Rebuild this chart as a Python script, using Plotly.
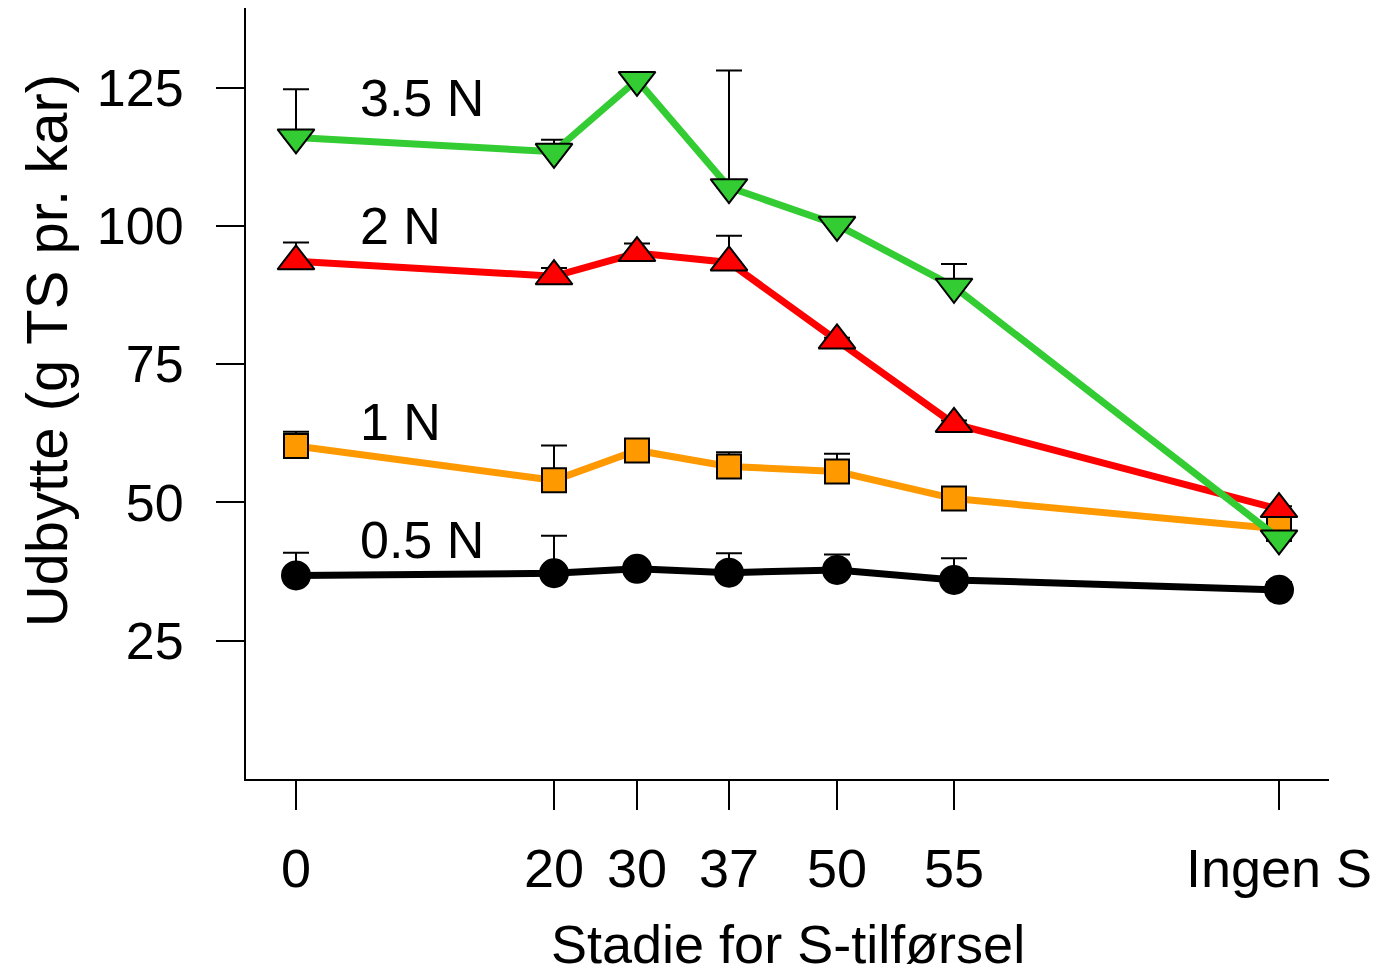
import plotly.graph_objects as go

# Stage of sulphur application (tick labels) and their positions along the axis
stage_labels = ["0", "20", "30", "37", "50", "55", "Ingen S"]
stage_pos = [0, 25.8, 34.1, 43.3, 54.1, 65.8, 98.3]

# Yield (g TS pr. kar) for each nitrogen level, with upper error bars
yield_05N = [36.8, 37.2, 38.0, 37.3, 37.8, 36.0, 34.2]
err_05N = [4.1, 6.8, 1.0, 3.5, 2.8, 3.9, 1.4]

yield_1N = [60.2, 54.0, 59.4, 56.5, 55.6, 50.7, 45.2]
err_1N = [2.6, 6.3, 0.4, 2.6, 3.2, 0.8, 0.6]

yield_2N = [93.6, 90.9, 95.1, 93.4, 79.3, 64.2, 48.8]
err_2N = [3.4, 1.5, 1.7, 4.8, 0.5, 0.6, 0.5]

yield_35N = [116.0, 113.4, 126.4, 107.0, 100.2, 89.0, 43.5]
err_35N = [8.7, 2.2, 0.5, 21.1, 0.6, 4.1, 0.5]

series = [
    ("0.5 N", yield_05N, err_05N, "#000000", "circle", 28),
    ("1 N", yield_1N, err_1N, "#FF9900", "square", 24),
    ("2 N", yield_2N, err_2N, "#FF0000", "triangle-up", 32),
    ("3.5 N", yield_35N, err_35N, "#33CC33", "triangle-down", 32),
]

# Label placement for each series name (x in axis units, y in yield units)
label_x = 6.2
label_y = {"3.5 N": 123.2, "2 N": 99.9, "1 N": 64.6, "0.5 N": 43.3}

FONT = "Liberation Sans, Arial, sans-serif"

fig = go.Figure()
for name, ys, errs, color, symbol, msize in series:
    fig.add_trace(go.Scatter(
        x=stage_pos, y=ys, name=name, mode="lines+markers",
        line=dict(color=color, width=7),
        marker=dict(symbol=symbol, size=msize, color=color,
                    line=dict(color="#000000", width=2)),
        error_y=dict(type="data", symmetric=False, array=errs,
                     arrayminus=[0] * len(errs), color="#000000",
                     thickness=2, width=13),
        showlegend=False,
    ))
    fig.add_annotation(x=label_x, y=label_y[name], text=name, showarrow=False,
                       xanchor="left", yanchor="middle",
                       font=dict(family=FONT, size=52, color="#000000"))

fig.add_annotation(text="Stadie for S-tilførsel", xref="paper", yref="paper",
                   x=0.5, y=-0.2555, showarrow=False, xanchor="center",
                   yanchor="bottom", font=dict(family=FONT, size=54, color="#000000"))
fig.add_annotation(text="Udbytte (g TS pr. kar)", xref="paper", yref="paper",
                   x=-0.1847, y=0.556, showarrow=False, textangle=-90,
                   xanchor="center", yanchor="middle",
                   font=dict(family=FONT, size=58, color="#000000"))

fig.update_layout(
    width=1379, height=978,
    margin=dict(l=246, r=50, t=8, b=199),
    paper_bgcolor="white", plot_bgcolor="white",
    font=dict(family=FONT, size=52, color="#000000"),
    xaxis=dict(range=[-5.0, 103.3], tickmode="array", tickvals=stage_pos,
               ticktext=stage_labels, showline=True, linecolor="#000000",
               linewidth=2, ticks="outside", ticklen=29, tickwidth=2,
               tickcolor="#000000", showgrid=False, zeroline=False,
               ticklabelstandoff=12, tickfont=dict(size=54)),
    yaxis=dict(range=[0, 139.4], tickmode="array",
               tickvals=[25, 50, 75, 100, 125], showline=True,
               linecolor="#000000", linewidth=2, ticks="outside", ticklen=28,
               tickwidth=2, tickcolor="#000000", showgrid=False,
               zeroline=False, ticklabelstandoff=22, tickfont=dict(size=52)),
)

fig.write_html("out.html")
